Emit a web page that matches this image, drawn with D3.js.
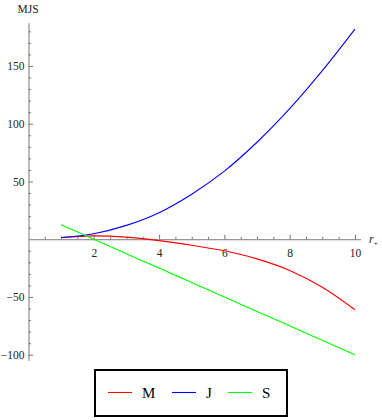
<!DOCTYPE html>
<html>
<head>
<meta charset="utf-8">
<script src="https://cdn.jsdelivr.net/npm/d3@7"></script>
<style>
  body { margin: 0; background: #fff; }
  .axis path, .axis line { stroke: #777; }
</style>
</head>
<body>
<div id="chart"></div>
<script>
// Values
const rPlus = [1, 2, 3, 4, 5, 6, 7, 8, 9, 10];
const mValues = [1.5, 2.9, 1.8, -1.2, -5.2, -10, -17, -27, -41.5, -61];
const jValues = [1.5, 4.8, 12, 23, 39, 59, 84, 113, 146, 182];
const sValues = [12.5, 0, -12.5, -25, -37.5, -50, -62.5, -75, -87.5, -100];
const xTicks = [2, 4, 6, 8, 10];
const yTicks = [-100, -50, 50, 100, 150];
const seriesNames = ["M", "J", "S"];
const seriesColors = ["#ff0000", "#0000ff", "#00ff00"];

const width = 382, height = 420;
const serif = "'Liberation Serif', 'Times New Roman', serif";

const x = d3.scaleLinear().domain([0, 10.17]).range([28.5, 360.5]);
const y = d3.scaleLinear().domain([-105, 187.5]).range([360.5, 22.7]);

const svg = d3.select("#chart").append("svg")
  .attr("width", width)
  .attr("height", height)
  .style("font-family", serif);

// Minor ticks
svg.append("g")
  .attr("class", "axis")
  .attr("transform", "translate(0," + y(0) + ")")
  .call(d3.axisBottom(x)
    .tickValues(d3.range(0.5, 10.1, 0.5).filter(v => v % 2 !== 0))
    .tickSize(-2.5)
    .tickFormat(""))
  .select(".domain").remove();

svg.append("g")
  .attr("class", "axis")
  .attr("transform", "translate(" + x(0) + ",0)")
  .call(d3.axisLeft(y)
    .tickValues(d3.range(-100, 181, 10).filter(v => v % 50 !== 0))
    .tickSize(-2.5)
    .tickFormat(""))
  .select(".domain").remove();

// Major axes
svg.append("g")
  .attr("class", "axis")
  .attr("transform", "translate(0," + y(0) + ")")
  .call(d3.axisBottom(x)
    .tickValues(xTicks)
    .tickSize(-4.5)
    .tickSizeOuter(0)
    .tickPadding(7))
  .attr("font-family", serif)
  .attr("font-size", 11.5)
  .call(g => g.selectAll("text").attr("dy", "0.95em").attr("fill", "#222"));

svg.append("g")
  .attr("class", "axis")
  .attr("transform", "translate(" + x(0) + ",0)")
  .call(d3.axisLeft(y)
    .tickValues(yTicks)
    .tickSize(-4.5)
    .tickSizeOuter(0)
    .tickPadding(4)
    .tickFormat(d => d < 0 ? "\u2212" + Math.abs(d) : d))
  .attr("font-family", serif)
  .attr("font-size", 11.5)
  .call(g => g.selectAll("text").attr("fill", "#222"));

// Axis labels
svg.append("text")
  .attr("x", 28)
  .attr("y", 13)
  .attr("text-anchor", "middle")
  .style("font-size", "11.5px")
  .attr("fill", "#222")
  .text("MJS");

const rLabel = svg.append("text")
  .attr("x", 369)
  .attr("y", 243)
  .attr("fill", "#222")
  .style("font-size", "12px");
rLabel.append("tspan").style("font-style", "italic").text("r");
rLabel.append("tspan").attr("dy", 2.5).style("font-size", "7px").text("+");

// Lines
const line = d3.line()
  .x((d, i) => x(rPlus[i]))
  .y(d => y(d))
  .curve(d3.curveCatmullRom.alpha(0.5));

const series = [mValues, jValues, sValues];

svg.selectAll(".line")
  .data(series)
  .enter().append("path")
  .attr("class", "line")
  .attr("d", d => line(d))
  .attr("fill", "none")
  .attr("stroke-width", 1.1)
  .style("stroke", (d, i) => seriesColors[i]);

// Legend
const legend = svg.append("g");
legend.append("rect")
  .attr("x", 95)
  .attr("y", 370)
  .attr("width", 192)
  .attr("height", 46)
  .attr("fill", "#fff")
  .attr("stroke", "#000")
  .attr("stroke-width", 2);

const legendX = [108, 172, 228];
seriesNames.forEach((name, i) => {
  legend.append("line")
    .attr("x1", legendX[i])
    .attr("x2", legendX[i] + 24)
    .attr("y1", 392.5)
    .attr("y2", 392.5)
    .attr("stroke", seriesColors[i])
    .attr("stroke-width", 1.1);
  legend.append("text")
    .attr("x", legendX[i] + 34)
    .attr("y", 398)
    .style("font-size", "15px")
    .text(name);
});
</script>
</body>
</html>
